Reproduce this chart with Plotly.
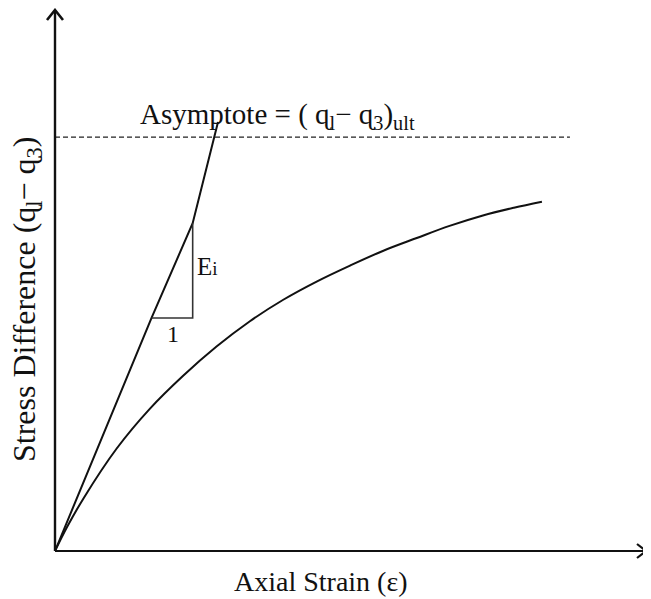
import plotly.graph_objects as go

# ---- data (normalised strain / stress units) ----
curve_strain = [0.0, 0.02, 0.0475, 0.1035, 0.159, 0.215, 0.271, 0.327, 0.383, 0.439, 0.495, 0.551, 0.607, 0.662, 0.718, 0.770, 0.817]
curve_stress = [0.0, 0.043, 0.095, 0.186, 0.258, 0.318, 0.371, 0.417, 0.456, 0.489, 0.518, 0.545, 0.568, 0.590, 0.609, 0.623, 0.634]

tangent_strain = [0.0, 0.162, 0.231, 0.2735]
tangent_stress = [0.0, 0.423, 0.595, 0.7786]

tri_strain = [0.162, 0.231, 0.231]
tri_stress = [0.423, 0.423, 0.595]

asymptote_value = 0.751
asymptote_end = 0.864

# the page shows the figure with an 8px body margin
OFF = 8
W, H = 651 - OFF, 599 - OFF
ORIGIN_X, ORIGIN_Y = 55, 551      # page pixels of the origin
UX, UY = 596.0, 551.0             # pixels per data unit
L = ORIGIN_X - OFF
B = H - (ORIGIN_Y - OFF)
T, R = 0, 0
pw, ph = W - L - R, H - T - B
X_MAX = pw / UX
Y_MAX = ph / UY


def px(xp):
    return (xp - ORIGIN_X) / pw


def py(yp):
    return (ORIGIN_Y - yp) / ph


fig = go.Figure()

fig.add_trace(go.Scatter(x=curve_strain, y=curve_stress, mode="lines",
                         line=dict(color="#111111", width=2, shape="spline", smoothing=1.0),
                         hoverinfo="skip", showlegend=False))
fig.add_trace(go.Scatter(x=tangent_strain, y=tangent_stress, mode="lines",
                         line=dict(color="#111111", width=2),
                         hoverinfo="skip", showlegend=False))
fig.add_trace(go.Scatter(x=tri_strain, y=tri_stress, mode="lines",
                         line=dict(color="#333333", width=1.6),
                         hoverinfo="skip", showlegend=False))
fig.add_trace(go.Scatter(x=[0, asymptote_end], y=[asymptote_value, asymptote_value], mode="lines",
                         line=dict(color="#222222", width=1.2, dash="5px,3px"),
                         hoverinfo="skip", showlegend=False))

serif = "Liberation Serif, Times New Roman, serif"

# axes with chevron arrows
shapes = [
    dict(type="line", xref="paper", yref="paper", x0=px(55), x1=px(55), y0=py(551), y1=py(11),
         line=dict(color="#111111", width=2.4)),
    dict(type="line", xref="paper", yref="paper", x0=px(55), x1=px(644), y0=py(551), y1=py(551),
         line=dict(color="#111111", width=2)),
    dict(type="path", xref="paper", yref="paper",
         path=f"M {px(47)} {py(20)} L {px(55)} {py(10)} L {px(63)} {py(20)}",
         line=dict(color="#111111", width=2.6)),
    dict(type="path", xref="paper", yref="paper",
         path=f"M {px(637)} {py(544)} L {px(646)} {py(551)} L {px(637)} {py(558)}",
         line=dict(color="#111111", width=2.2)),
]

annotations = [
    dict(text="Asymptote = ( ɋ<sub>l</sub>− ɋ<sub>3</sub>)<sub>ult</sub>", x=px(277), y=py(116),
         xref="paper", yref="paper", showarrow=False, font=dict(family=serif, size=29, color="#111111"),
         xanchor="center", yanchor="middle"),
    dict(text="E<span style='font-size:19px'>i</span>", x=px(195), y=py(266), xref="paper", yref="paper",
         showarrow=False, font=dict(family=serif, size=25, color="#111111"), xanchor="left", yanchor="middle"),
    dict(text="1", x=px(173), y=py(334), xref="paper", yref="paper", showarrow=False,
         font=dict(family=serif, size=24, color="#111111"), xanchor="center", yanchor="middle"),
    dict(text="Axial Strain (ε)", x=px(321), y=py(581), xref="paper", yref="paper", showarrow=False,
         font=dict(family=serif, size=28, color="#111111"), xanchor="center", yanchor="middle"),
    dict(text="Stress Difference (ɋ<sub>l</sub>− ɋ<sub>3</sub>)", x=px(26), y=py(300), xref="paper", yref="paper",
         showarrow=False, textangle=-90, font=dict(family=serif, size=32, color="#111111"),
         xanchor="center", yanchor="middle"),
]

fig.update_layout(
    width=W, height=H,
    margin=dict(l=L, r=R, t=T, b=B),
    paper_bgcolor="white", plot_bgcolor="white",
    xaxis=dict(range=[0, X_MAX], visible=False, fixedrange=True),
    yaxis=dict(range=[0, Y_MAX], visible=False, fixedrange=True),
    shapes=shapes, annotations=annotations, showlegend=False,
)

fig.write_html("out.html")
